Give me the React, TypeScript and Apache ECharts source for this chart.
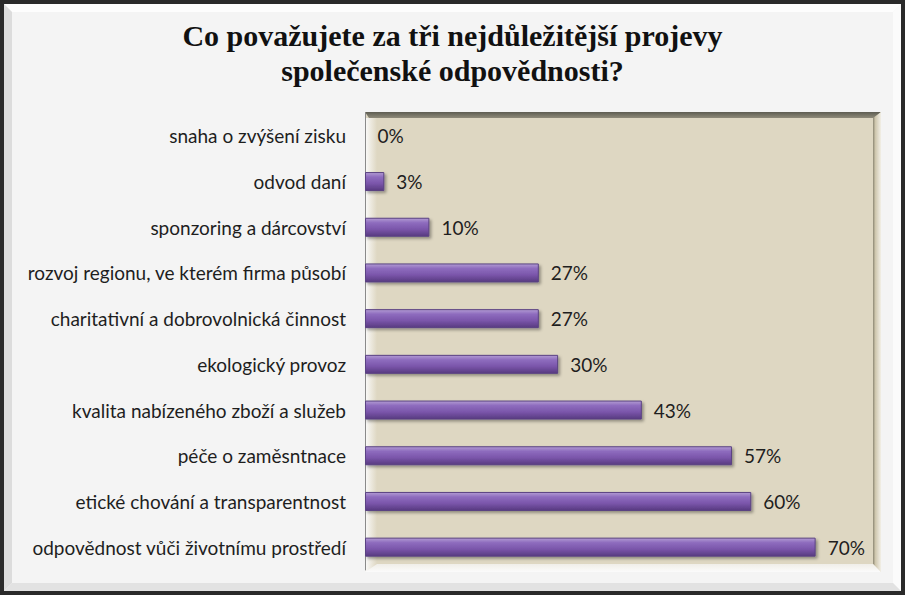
import React, { useEffect, useRef } from "react";
import * as echarts from "echarts";

const titleLines = ["Co považujete za tři nejdůležitější projevy", "společenské odpovědnosti?"];
const categories = [
  "snaha o zvýšení zisku",
  "odvod daní",
  "sponzoring a dárcovství",
  "rozvoj regionu, ve kterém firma působí",
  "charitativní a dobrovolnická činnost",
  "ekologický provoz",
  "kvalita nabízeného zboží a služeb",
  "péče o zaměsntnace",
  "etické chování a transparentnost",
  "odpovědnost vůči životnímu prostředí",
];
const values = [0, 3, 10, 27, 27, 30, 43, 57, 60, 70];

export default function App() {
  const ref = useRef<HTMLDivElement>(null);
  useEffect(() => {
    document.body.style.margin = "0";
    const chart = echarts.init(ref.current!, null, { renderer: "svg" });
    const gl = 365, gt = 113, gr = 880, gb = 570;
    chart.setOption({
      animation: false,
      backgroundColor: "#f4f4f4",
      title: {
        text: titleLines.join("\n"),
        left: "center",
        top: 13,
        textStyle: {
          fontFamily: "'Liberation Serif', 'DejaVu Serif', serif",
          fontWeight: "bold",
          fontSize: 30,
          lineHeight: 35,
          color: "#111",
        },
      },
      graphic: [
        { type: "rect", z: -10, shape: { x: 2, y: 2, width: 901, height: 591 }, style: { fill: "#f4f4f4", stroke: "#2a2a2a", lineWidth: 4 } },
        { type: "polygon", z: -9, shape: { points: [[4, 4], [901, 4], [893, 12], [12, 12]] }, style: { fill: "#fdfdfd" } },
        { type: "polygon", z: -9, shape: { points: [[4, 4], [12, 12], [12, 583], [4, 591]] }, style: { fill: "#dcdcdc" } },
        { type: "polygon", z: -9, shape: { points: [[901, 4], [901, 591], [893, 583], [893, 12]] }, style: { fill: "#fbfbfb" } },
        { type: "polygon", z: -9, shape: { points: [[4, 591], [901, 591], [893, 583], [12, 583]] }, style: { fill: "#e2e2e2" } },
        { type: "rect", z: -8, shape: { x: gl, y: gt - 1, width: gr - gl + 1, height: gb - gt + 3 }, style: { fill: "#ded7c2" } },
        {
          type: "polygon", z: -7,
          shape: { points: [[gl, gt - 1], [gr + 1, gt - 1], [gr - 5, gt + 5], [gl + 4, gt + 5]] },
          style: { fill: new echarts.graphic.LinearGradient(0, 0, 0, 1, [{ offset: 0, color: "#5e5d52" }, { offset: 1, color: "#8f8b7a" }]) },
        },
        {
          type: "polygon", z: -7,
          shape: { points: [[gr + 1, gt - 1], [gr + 1, gb + 2], [gr - 7, gb - 6], [gr - 7, gt + 5]] },
          style: { fill: new echarts.graphic.LinearGradient(0, 0, 1, 0, [{ offset: 0, color: "#8d8874" }, { offset: 0.3, color: "#cfc7ae" }, { offset: 1, color: "#f2efe6" }]) },
        },
        {
          type: "polygon", z: -7,
          shape: { points: [[gl, gb + 2], [gr + 1, gb + 2], [gr - 7, gb - 6], [gl + 4, gb - 6]] },
          style: { fill: new echarts.graphic.LinearGradient(0, 0, 0, 1, [{ offset: 0, color: "#f0eee8" }, { offset: 1, color: "#fbfbfb" }]) },
        },
        {
          type: "polygon", z: -7,
          shape: { points: [[gl, gt + 5], [gl + 12, gt + 5], [gl + 12, gb - 6], [gl, gb + 2]] },
          style: { fill: new echarts.graphic.LinearGradient(0, 0, 1, 0, [{ offset: 0, color: "#fbfbfb" }, { offset: 1, color: "#ded7c2" }]) },
        },
      ],
      grid: { left: gl, top: gt, right: 905 - gr, bottom: 595 - gb, containLabel: false },
      xAxis: {
        type: "value",
        min: 0,
        max: 80,
        show: false,
      },
      yAxis: {
        type: "category",
        data: categories,
        inverse: true,
        axisLine: { show: true, lineStyle: { color: "#8a8a8a", width: 1 } },
        axisTick: { show: false },
        axisLabel: {
          margin: 19,
          fontFamily: "Lato, 'Open Sans', sans-serif",
          fontSize: 19,
          color: "#1e1e1e",
        },
        splitLine: { show: false },
      },
      series: [
        {
          type: "bar",
          data: values,
          barWidth: 19,
          z: 3,
          itemStyle: {
            color: new echarts.graphic.LinearGradient(0, 0, 0, 1, [
              { offset: 0, color: "#b29bd3" },
              { offset: 0.25, color: "#8e6cbe" },
              { offset: 0.6, color: "#7b56ab" },
              { offset: 1, color: "#583a80" },
            ]),
            borderColor: "#5a4282",
            borderWidth: 1,
            shadowColor: "rgba(0,0,0,0.35)",
            shadowBlur: 3,
            shadowOffsetX: 2,
            shadowOffsetY: 2,
          },
          label: {
            show: true,
            position: "right",
            distance: 12,
            formatter: "{c}%",
            fontFamily: "Lato, 'Open Sans', sans-serif",
            fontSize: 19,
            color: "#1e1e1e",
          },
        },
      ],
    });
    return () => chart.dispose();
  }, []);
  return <div ref={ref} style={{ position: "absolute", left: 0, top: 0, width: 905, height: 595 }} />;
}
